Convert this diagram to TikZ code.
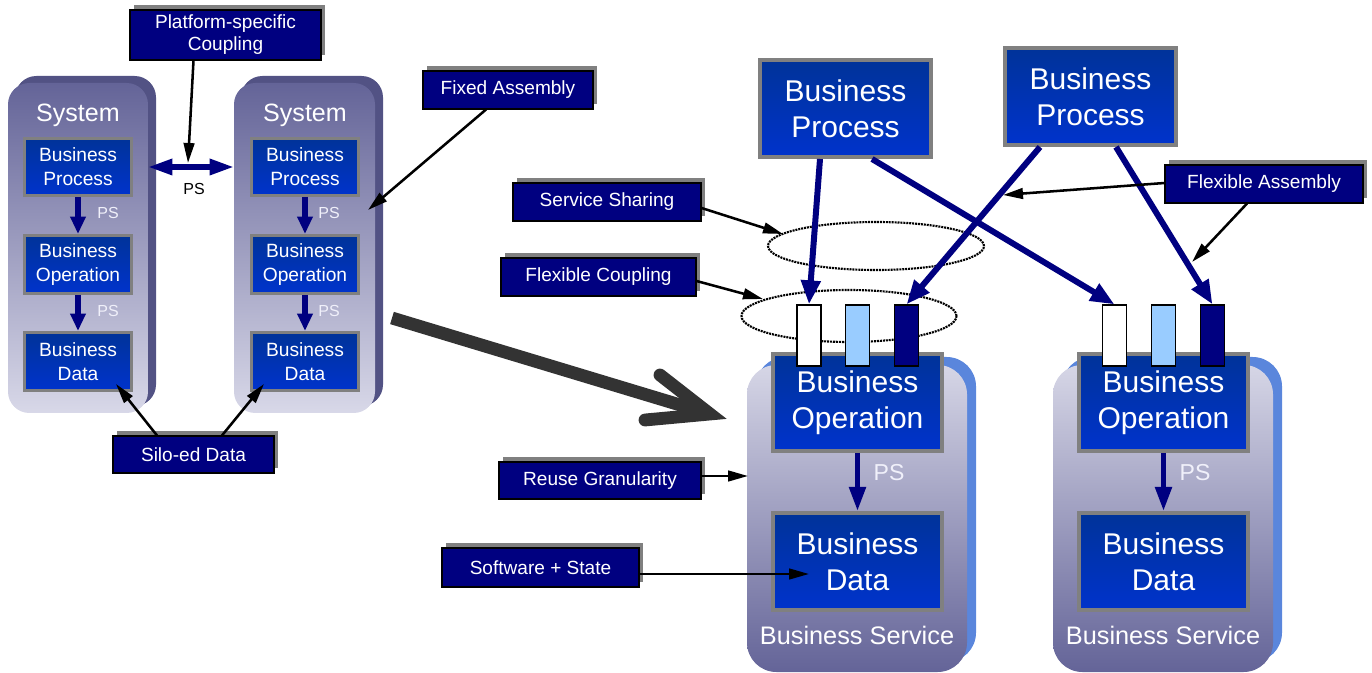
\documentclass[tikz,border=0pt]{standalone}
\usepackage{fontspec}
\setmainfont{Liberation Sans}
\usetikzlibrary{arrows.meta,calc,shapes.geometric,shadows}
\definecolor{navy}{RGB}{0,0,128}
\definecolor{bluetop}{RGB}{0,51,153}
\definecolor{bluebot}{RGB}{0,51,204}
\definecolor{boxgray}{RGB}{128,128,128}
\definecolor{systop}{RGB}{100,100,152}
\definecolor{sysbot}{RGB}{216,216,232}
\definecolor{sysback}{RGB}{82,82,132}
\definecolor{svctop}{RGB}{214,214,230}
\definecolor{svcbot}{RGB}{100,100,152}
\definecolor{svcback}{RGB}{90,134,220}
\definecolor{lightblue}{RGB}{153,204,255}
\definecolor{pstext}{RGB}{240,240,250}
\definecolor{bigarrowc}{RGB}{51,51,51}
\tikzset{
  wh/.style 2 args={minimum width=#1*0.75pt, minimum height=#2*0.75pt},
  lbl/.style={draw=black, line width=0.8pt, fill=navy, text=white, inner sep=0pt,
    align=center, font=\fontsize{14.3}{16.5}\selectfont,
    general shadow={fill=boxgray, shadow xshift=3.2pt, shadow yshift=3.8pt}},
  sbox/.style={draw=boxgray, line width=2.25pt, top color=bluetop, bottom color=bluebot,
    text=white, inner sep=0pt, align=center, font=\fontsize{14.4}{18}\selectfont},
  lbox/.style={draw=boxgray, line width=3pt, top color=bluetop, bottom color=bluebot,
    text=white, inner sep=0pt, align=center, font=\fontsize{22.5}{27}\selectfont},
  sysfront/.style={rounded corners=16pt, top color=systop, bottom color=sysbot, inner sep=0pt},
  sysbackst/.style={rounded corners=16pt, fill=sysback, inner sep=0pt},
  svcfront/.style={rounded corners=22pt, top color=svctop, bottom color=svcbot, inner sep=0pt},
  svcbackst/.style={rounded corners=22pt, fill=svcback, inner sep=0pt},
  systitle/.style={text=white, font=\fontsize{18.8}{20}\selectfont},
  pssmall/.style={text=pstext, font=\fontsize{12}{14}\selectfont},
  psbig/.style={text=pstext, font=\fontsize{17.3}{20}\selectfont},
  port/.style={draw=black, line width=0.9pt, inner sep=0pt, wh={24}{61}},
  psarrow/.style={navy, line width=3.8pt, -{Triangle[length=13pt,width=11pt]}},
  psarrowbig/.style={navy, line width=3.8pt, -{Triangle[length=18pt,width=12pt]}},
  dblarrow/.style={navy, line width=3.8pt, {Triangle[length=18pt,width=11.5pt]}-{Triangle[length=18pt,width=11.5pt]}},
  navyarrow/.style={navy, line width=4.5pt, -{Triangle[length=18pt,width=14pt]}},
  lblarrow/.style={black, line width=1.9pt, -{Triangle[length=15pt,width=8pt]}},
  ringst/.style={ellipse, draw=black, line width=1.6pt, dash pattern=on 1.5pt off 0.7pt, inner sep=0pt},
  bigarrow/.style={bigarrowc, line width=9.6pt}
}
\begin{document}
\begin{tikzpicture}[x=0.75pt,y=-0.75pt]
\useasboundingbox (0,0) rectangle (1372,673);

% ---------------- left: two systems ----------------
\node[sysbackst, wh={141}{330}] (s1b) at (85.5,241) {};
\node[sysfront, wh={140}{330}] (s1) at (78,248) {};
\node[sysbackst, wh={142}{330}] (s2b) at (312,241) {};
\node[sysfront, wh={141}{330}] (s2) at (304.5,248) {};

\node[systitle] (t1) at (78,115) {System};
\node[systitle] (t2) at (305,115) {System};

\node[sbox, wh={107}{57}] (bp1) at (78,167) {Business\\Process};
\node[sbox, wh={107}{58}] (bo1) at (78,264.5) {Business\\Operation};
\node[sbox, wh={107}{58}] (bd1) at (78,361.5) {Business\\Data};
\node[sbox, wh={107}{57}] (bp2) at (305,167) {Business\\Process};
\node[sbox, wh={107}{58}] (bo2) at (305,264.5) {Business\\Operation};
\node[sbox, wh={107}{58}] (bd2) at (305,361.5) {Business\\Data};

\draw[psarrow] (bp1) -- (bo1);
\draw[psarrow] (bo1) -- (bd1);
\draw[psarrow] (bp2) -- (bo2);
\draw[psarrow] (bo2) -- (bd2);
\node[pssmall] (ps1) at (108,213) {PS};
\node[pssmall] (ps2) at (108,311) {PS};
\node[pssmall] (ps3) at (329,213) {PS};
\node[pssmall] (ps4) at (329,311) {PS};

\draw[dblarrow] (s1.east |- bp1) -- (s2.west |- bp2);
\node[font=\fontsize{12}{14}\selectfont] (ps0) at (194,189) {PS};

\node[lbl, wh={191}{50}] (pc) at (225.5,35) {Platform-specific\\Coupling};
\coordinate (pcend) at (188,163);
\draw[lblarrow] ($(pc.south)+(-32,0)$) -- (pcend);

\node[lbl, wh={161}{37}] (sd) at (193.5,454.5) {Silo-ed Data};
\coordinate (sdend1) at (116,384);
\coordinate (sdend2) at (264,384);
\draw[lblarrow] ($(sd.north)+(-36.5,0)$) -- (sdend1);
\draw[lblarrow] ($(sd.north)+(28.5,0)$) -- (sdend2);

\node[lbl, wh={170}{38}] (fxa) at (508,90) {Fixed Assembly};
\coordinate (fxend) at (368,210);
\draw[lblarrow] ($(fxa.south)+(-22,0)$) -- (fxend);

% ---------------- big transition arrow ----------------
\coordinate (ba1) at (392,318);
\coordinate (bav) at (710,414);
\coordinate (baup) at (660,375);
\coordinate (balo) at (645,420);
\draw[bigarrow, line cap=butt] (ba1) -- ($(bav)+(-4,-1.2)$);
\draw[bigarrow, line cap=round, line join=miter] (baup) -- (bav) -- (balo);

% ---------------- right: business services ----------------
\node[svcbackst, wh={220}{305}] (svlb) at (866,509.5) {};
\node[svcfront, wh={220}{307}] (svl) at (857,518.5) {};
\node[svcbackst, wh={220}{305}] (svrb) at (1172,509.5) {};
\node[svcfront, wh={220}{307}] (svr) at (1163,518.5) {};

\node[text=white, font=\fontsize{19}{22}\selectfont] (bsl) at (857,635) {Business Service};
\node[text=white, font=\fontsize{19}{22}\selectfont] (bsr) at (1163,635) {Business Service};

\node[ringst, wh={216}{48}] (ssE) at (876,246) {};
\node[ringst, wh={215}{52}] (fcE) at (849,316) {};

\node[lbox, wh={169}{97}] (boL) at (857.5,402.5) {Business\\Operation};
\node[lbox, wh={169}{97}] (bdL) at (857.5,561.5) {Business\\Data};
\node[lbox, wh={169}{97}] (boR) at (1163.5,402.5) {Business\\Operation};
\node[lbox, wh={169}{97}] (bdR) at (1163.5,561.5) {Business\\Data};

\node[port, fill=white] (wL) at (809,335.5) {};
\node[port, fill=lightblue] (lL) at (857.5,335.5) {};
\node[port, fill=navy] (nL) at (906.5,335.5) {};
\node[port, fill=white] (wR) at (1114.5,335.5) {};
\node[port, fill=lightblue] (lR) at (1163.5,335.5) {};
\node[port, fill=navy] (nR) at (1212.5,335.5) {};

\draw[psarrowbig] (boL) -- (bdL);
\draw[psarrowbig] (boR) -- (bdR);
\node[psbig] (ps5) at (889,473) {PS};
\node[psbig] (ps6) at (1195,473) {PS};

\node[lbox, wh={171}{97}] (bpA) at (845.5,108.5) {Business\\Process};
\node[lbox, wh={171}{97}] (bpB) at (1090.5,96.5) {Business\\Process};

\draw[navyarrow] ($(bpA.south)+(-25.5,0)$) -- (wL.north);
\draw[navyarrow] ($(bpA.south)+(26.5,0)$) -- (wR.north);
\draw[navyarrow] ($(bpB.south)+(-50.5,0)$) -- (nL.north);
\draw[navyarrow] ($(bpB.south)+(25.5,0)$) -- (nR.north);

% ---------------- right labels ----------------
\node[lbl, wh={188}{38}] (ss) at (607,202) {Service Sharing};
\coordinate (ssend) at ($(ssE.center)+(-93,-12)$);
\draw[lblarrow] ($(ss.east)+(0,6)$) -- (ssend);

\node[lbl, wh={195}{38}] (fc) at (598.5,277) {Flexible Coupling};
\coordinate (fcend) at ($(fcE.center)+(-86,-17)$);
\draw[lblarrow] ($(fc.east)+(0,4)$) -- (fcend);

\node[lbl, wh={198}{38}] (fa) at (1264,184) {Flexible Assembly};
\coordinate (faend1) at (1003,195);
\coordinate (faend2) at (1192,262);
\draw[lblarrow] ($(fa.west)+(0,-1)$) -- (faend1);
\draw[lblarrow] ($(fa.south)+(-17,0)$) -- (faend2);

\node[lbl, wh={202}{37}] (rg) at (600,480.5) {Reuse Granularity};
\coordinate (rgend) at (748,476);
\draw[lblarrow] ($(rg.east)+(0,-4.5)$) -- (rgend);

\node[lbl, wh={197}{39}] (sw) at (540.5,567.5) {Software + State};
\coordinate (swend) at (809,574);
\draw[lblarrow] ($(sw.east)+(0,6.5)$) -- (swend);
\end{tikzpicture}
\end{document}
